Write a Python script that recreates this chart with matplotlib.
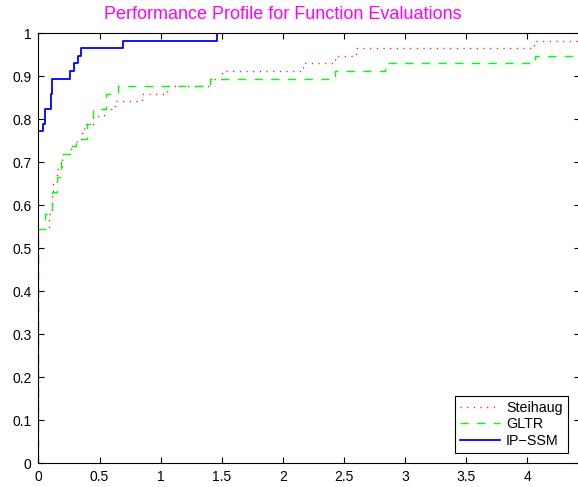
import matplotlib
matplotlib.use("Agg")
import matplotlib.pyplot as plt
import numpy as np

N_PROBLEMS = 57
X_MAX = 4.43

# (tau, number of problems solved within tau)
STEIHAUG_TAU = [0, 0.088, 0.108, 0.113, 0.121, 0.154, 0.19, 0.266, 0.313, 0.354,
                0.372, 0.444, 0.536, 0.626, 0.845, 1.049, 1.403, 1.502, 2.164,
                2.426, 2.598, 4.055]
STEIHAUG_COUNT = [31, 33, 34, 36, 37, 39, 41, 42, 43, 44,
                  45, 46, 47, 48, 49, 50, 51, 52, 53,
                  54, 55, 56]

GLTR_TAU = [0, 0.053, 0.108, 0.154, 0.182, 0.274, 0.304, 0.394, 0.448, 0.552,
            0.653, 1.403, 2.426, 2.835, 4.063]
GLTR_COUNT = [31, 33, 36, 38, 41, 42, 43, 45, 47, 49,
              50, 51, 52, 53, 54]

IPSSM_TAU = [0, 0.035, 0.05, 0.10, 0.113, 0.258, 0.293, 0.326, 0.345, 0.689, 1.458]
IPSSM_COUNT = [44, 45, 47, 49, 51, 52, 53, 54, 55, 56, 57]

X_TICKS = [0, 0.5, 1, 1.5, 2, 2.5, 3, 3.5, 4]
X_TICKLABELS = ["0", "0.5", "1", "1.5", "2", "2.5", "3", "3.5", "4"]
Y_TICKS = [0, 0.1, 0.2, 0.3, 0.4, 0.5, 0.6, 0.7, 0.8, 0.9, 1]
Y_TICKLABELS = ["0", "0.1", "0.2", "0.3", "0.4", "0.5", "0.6", "0.7", "0.8", "0.9", "1"]


def profile(tau, count):
    # start the curve at zero on the y axis, run it out to the right edge
    x = np.array([0] + tau + [X_MAX], dtype=float)
    y = np.array([0] + count + [count[-1]], dtype=float) / N_PROBLEMS
    return x, y


def main():
    plt.rcParams.update({
        "font.family": ["Liberation Sans", "DejaVu Sans"],
        "font.size": 10,
    })

    fig = plt.figure(figsize=(5.78, 4.87), dpi=100)
    ax = fig.add_axes([38.5 / 578, 23.7 / 487, (580 - 38.5) / 578, 430 / 487])

    x, y = profile(STEIHAUG_TAU, STEIHAUG_COUNT)
    ax.step(x, y, where="post", color="red", linewidth=1.0,
            dashes=(0.8, 4.0), label="Steihaug")
    x, y = profile(GLTR_TAU, GLTR_COUNT)
    ax.step(x, y, where="post", color="#00ff00", linewidth=1.0,
            dashes=(6, 6), label="GLTR")
    x, y = profile(IPSSM_TAU, IPSSM_COUNT)
    ax.step(x, y, where="post", color="blue", linewidth=1.3, label="IP\u2212SSM")

    ax.set_xlim(0, X_MAX)
    ax.set_ylim(0, 1)
    ax.set_xticks(X_TICKS)
    ax.set_xticklabels(X_TICKLABELS)
    ax.set_yticks(Y_TICKS)
    ax.set_yticklabels(Y_TICKLABELS)
    ax.tick_params(direction="in", length=4, width=0.8, top=True, right=True,
                   pad=5)
    for s in ax.spines.values():
        s.set_linewidth(0.8)

    fig.text(282.5 / 578, 1 - 14.5 / 487, "Performance Profile for Function Evaluations",
             color="#ff00ff", fontsize=13, ha="center", va="center")

    leg = ax.legend(loc="lower right", bbox_to_anchor=(567.7 / 578, 33.7 / 487),
                    bbox_transform=fig.transFigure, borderaxespad=0,
                    fancybox=False, framealpha=1, edgecolor="black",
                    handlelength=2.8, handletextpad=0.4, labelspacing=0.2,
                    borderpad=0.35, fontsize=10.3)
    leg.get_frame().set_linewidth(0.8)

    fig.savefig("out.png", dpi=100)


if __name__ == "__main__":
    main()
